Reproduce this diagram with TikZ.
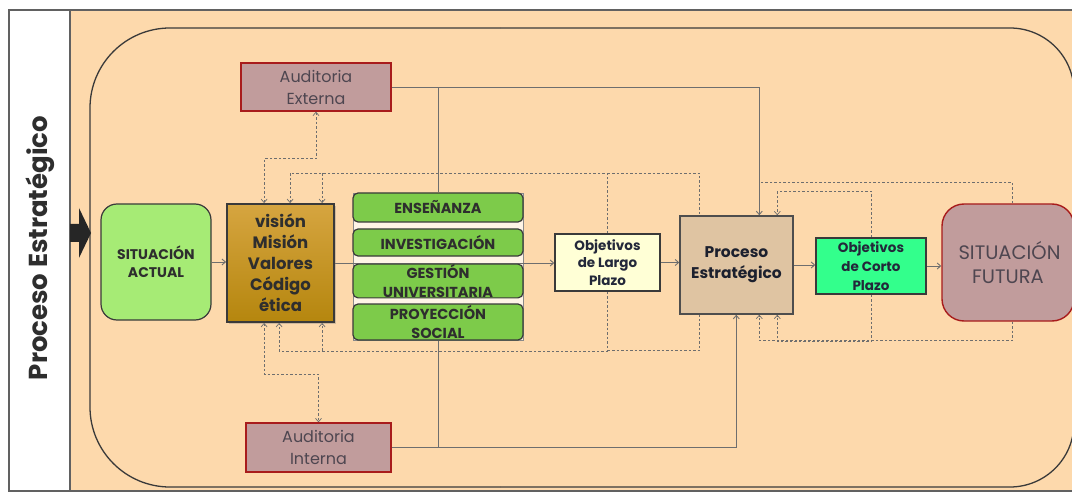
\documentclass[tikz,border=0pt]{standalone}
\usepackage{fontspec}
\setmainfont{Poppins}
\usetikzlibrary{arrows.meta,calc,shadows}
\pgfdeclarelayer{bgl}
\pgfdeclarelayer{conn}
\pgfsetlayers{bgl,conn,main}
\definecolor{peach}{HTML}{FDD9AC}
\definecolor{sagreen}{HTML}{A6EB75}
\definecolor{bargreen}{HTML}{7DCB4A}
\definecolor{goldtop}{HTML}{D6A540}
\definecolor{goldbot}{HTML}{B5860E}
\definecolor{ylw}{HTML}{FFFFD6}
\definecolor{tan}{HTML}{DFC4A2}
\definecolor{mint}{HTML}{33FF8C}
\definecolor{mauve}{HTML}{C19C9C}
\definecolor{dred}{HTML}{A81C1C}
\definecolor{bord}{HTML}{3A3A3A}
\definecolor{txt}{HTML}{2E2E2E}
\definecolor{navytxt}{HTML}{23283A}
\definecolor{ltxt}{HTML}{4E4650}
\definecolor{conncol}{HTML}{6E6E6E}
\tikzset{
  box/.style={inner sep=0pt, align=center, text=txt},
  barbox/.style={box, rounded corners=5, fill=bargreen, draw=bord, line width=1.2,
     minimum width=170, font=\bfseries\fontsize{14.5}{19.5}\selectfont},
  audbox/.style={box, fill=mauve, draw=dred, line width=1.3, text=ltxt,
     font=\fontsize{16}{22}\selectfont},
  solidc/.style={draw=conncol, line width=0.9},
  dashc/.style={draw=conncol, line width=0.7, dash pattern=on 2.5pt off 2pt},
  >={Straight Barb[length=3.5pt,width=6pt]}
}
\begin{document}
\begin{tikzpicture}[x=1pt,y=-1pt]
\useasboundingbox (0,0) rectangle (1072,492);
\begin{pgfonlayer}{bgl}
  \fill[white] (0,0) rectangle (1072,492);
  \fill[peach] (70,10) rectangle (1085,491);
  \draw[bord!80, line width=1.2] (9,10) rectangle (1085,491);
  \draw[bord!80, line width=1.2] (70,10) -- (70,491);
  \draw[bord, line width=1.3, rounded corners=64] (500,28) -- (1074,28) -- (1074,487) -- (500,487);
  \draw[bord, line width=1.3, rounded corners=80] (500,487) -- (90,487) -- (90,28) -- (500,28);
  \fill[black!85] (70,224) -- (79,224) -- (79,208) -- (91,233) -- (79,258) -- (79,242) -- (70,242) -- cycle;
  \fill[white!70!peach, draw=bord!60, line width=0.8] (353,193) rectangle (523,340);
\end{pgfonlayer}

\node[rotate=90, text=txt, font=\bfseries\fontsize{26}{26}\selectfont] (lbl) at (40,248) {Proceso Estratégico};

\node[box, rounded corners=16, fill=sagreen, draw=bord, line width=1.2, minimum width=110, minimum height=116,
      font=\bfseries\fontsize{14}{18}\selectfont] (sa) at (156,262) {SITUACIÓN\\ACTUAL};
\node[box, top color=goldtop, bottom color=goldbot, draw=bord, line width=1.8, minimum width=107, minimum height=118,
      drop shadow={opacity=0.35, shadow xshift=2pt, shadow yshift=-2pt},
      font=\bfseries\fontsize{16.5}{21}\selectfont] (vm) at (280.5,263) {visión\\Misión\\Valores\\Código\\ética};

\node[barbox, minimum height=29] (ens) at (438,207.5) {ENSEÑANZA};
\node[barbox, minimum height=27] (inv) at (438,242.5) {INVESTIGACIÓN};
\node[barbox, minimum height=32] (ges) at (438,281) {GESTIÓN\\UNIVERSITARIA};
\node[barbox, minimum height=36] (pro) at (438,322) {PROYECCIÓN\\SOCIAL};

\node[box, fill=ylw, draw=bord, line width=1.4, minimum width=105, minimum height=57, text=navytxt,
      font=\bfseries\fontsize{13.5}{17.5}\selectfont] (olp) at (607.5,262.5) {Objetivos\\de Largo\\Plazo};
\node[box, fill=tan, draw=bord!90, line width=1.4, minimum width=113, minimum height=98, text=navytxt!80!black,
      font=\bfseries\fontsize{15.5}{21}\selectfont] (pe) at (736.5,265) {Proceso\\Estratégico};
\node[box, fill=mint, draw=bord, line width=1.4, minimum width=110, minimum height=56, text=navytxt,
      font=\bfseries\fontsize{13.5}{19}\selectfont] (ocp) at (871,266) {Objetivos\\de Corto\\Plazo};
\node[box, rounded corners=22, fill=mauve, draw=dred, line width=1.4, minimum width=132, minimum height=117, text=ltxt,
      font=\fontsize{19.5}{24}\selectfont] (sf) at (1008,262.5) {\hspace*{3pt}SITUACIÓN\\FUTURA};

\node[audbox, minimum width=150, minimum height=48] (ae) at (316,87) {Auditoria\\Externa};
\node[audbox, minimum width=145, minimum height=49] (ai) at (318.5,447.5) {Auditoria\\Interna};

\begin{pgfonlayer}{conn}
  % solid flow
  \draw[solidc,->] (sa.east) -- (sa.east -| vm.west);
  \draw[solidc,->] (vm.east) -- (vm.east -| olp.west);
  \draw[solidc,->] (olp.east) -- (olp.east -| pe.west);
  \draw[solidc,->] (pe.east) -- (pe.east -| ocp.west);
  \draw[solidc,->] (ocp.east) -- (ocp.east -| sf.west);
  % auditoria externa
  \draw[solidc,->] (ae.east) -| ($(pe.north west)+(80,0)$);
  \draw[solidc] (ens.north) -- (ens.north |- ae.east);
  % auditoria interna
  \draw[solidc,->] (ai.east) -| ($(pe.south west)+(57,0)$);
  \draw[solidc] (pro.south) -- (pro.south |- ai.east);
  % dashed feedback above vision
  \draw[dashc,<->] (ae.south) -- ++(0,47) -| ($(vm.north west)+(38,0)$);
  \draw[dashc,->] (olp.north) |- ($(vm.north west)+(64,-30)$) -- ($(vm.north west)+(64,0)$);
  \draw[dashc,->] ($(vm.north west)+(96,-30)$) -- ($(vm.north west)+(96,0)$);
  \draw[dashc] ($(olp.north)+(0,-60)$) -| ($(pe.north west)+(20,0)$);
  % dashed feedback below vision
  \draw[dashc,<->] ($(vm.south west)+(38,0)$) -- ++(0,51) -| (ai.north);
  \draw[dashc,->] (olp.south) |- ($(vm.south west)+(53,28)$) -- ($(vm.south west)+(53,0)$);
  \draw[dashc,->] ($(vm.south west)+(96,28)$) -- ($(vm.south west)+(96,0)$);
  \draw[dashc] ($(olp.south)+(0,59)$) -| ($(pe.south west)+(20,0)$);
  % dashed feedback around proceso
  \draw[dashc] ($(sf.north west)+(71,0)$) |- ($(pe.north west)+(80,-33)$);
  \draw[dashc,->] (ocp.north) |- ($(pe.north west)+(98,-24)$) -- ($(pe.north west)+(98,0)$);
  \draw[dashc,->] ($(sf.south west)+(71,0)$) |- ($(pe.south west)+(80,26)$) -- ($(pe.south west)+(80,0)$);
  \draw[dashc,->] (ocp.south) |- ($(pe.south west)+(98,27)$) -- ($(pe.south west)+(98,0)$);
\end{pgfonlayer}
\end{tikzpicture}
\end{document}
